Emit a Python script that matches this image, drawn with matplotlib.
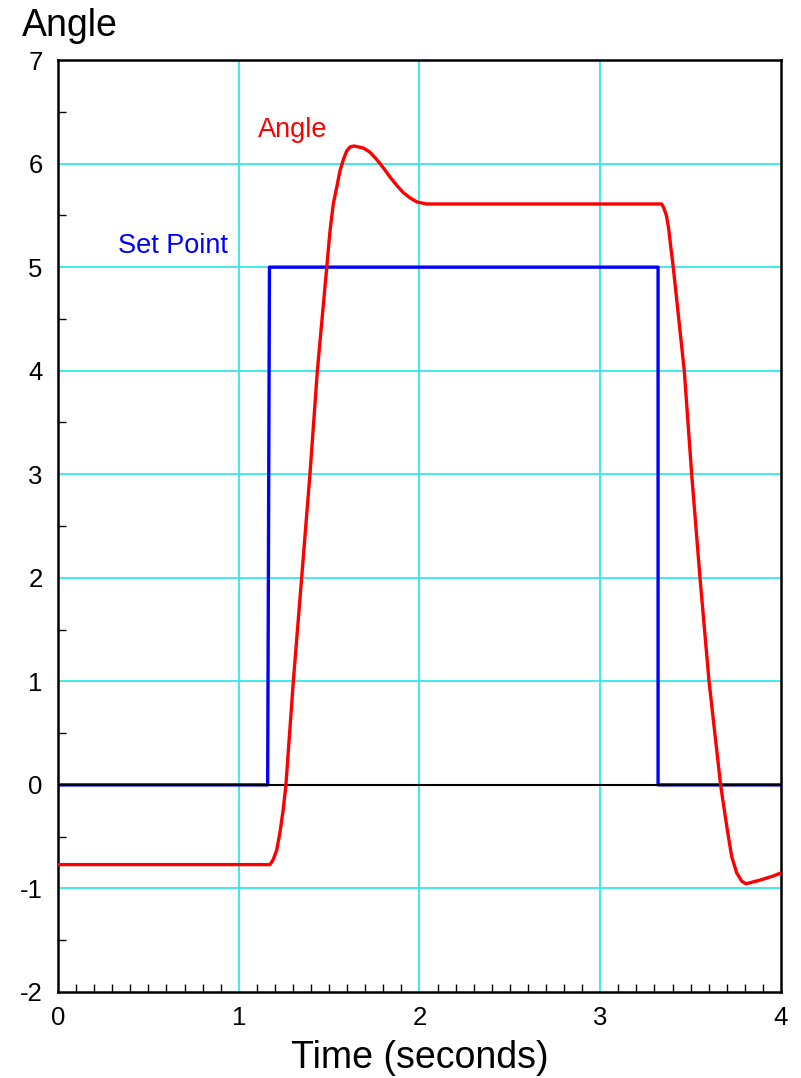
import numpy as np
import matplotlib
matplotlib.use("Agg")
import matplotlib.pyplot as plt
from matplotlib.ticker import MultipleLocator, FuncFormatter

# data
setpoint_t = [0.0, 1.16, 1.17, 3.32, 3.32, 4.0]
setpoint_v = [0.0, 0.0, 5.0, 5.0, 0.0, 0.0]

angle_t = [0.0, 1.173, 1.191, 1.21, 1.228, 1.246, 1.261, 1.302, 1.348, 1.394,
           1.435, 1.487, 1.505, 1.523, 1.542, 1.560, 1.579, 1.597, 1.615,
           1.638, 1.690, 1.726, 1.763, 1.800, 1.837, 1.874, 1.910, 1.947,
           1.985, 2.04, 3.34, 3.352, 3.366, 3.378, 3.39, 3.404, 3.465, 3.506,
           3.552, 3.602, 3.666, 3.70, 3.727, 3.755, 3.783, 3.806, 3.884,
           3.957, 4.0]
angle_v = [-0.77, -0.77, -0.72, -0.63, -0.46, -0.24, 0.0, 1.0, 2.0, 3.0,
           4.0, 5.0, 5.35, 5.61, 5.77, 5.93, 6.04, 6.12, 6.16,
           6.17, 6.15, 6.11, 6.04, 5.96, 5.87, 5.79, 5.72, 5.67,
           5.63, 5.61, 5.61, 5.57, 5.5, 5.38, 5.2, 5.0, 4.0, 3.0,
           2.0, 1.0, 0.0, -0.40, -0.69, -0.85, -0.93, -0.955, -0.92,
           -0.88, -0.85]

plt.rcParams['font.family'] = ['Liberation Sans', 'DejaVu Sans']

fig = plt.figure(figsize=(8.01, 10.78), dpi=100)
ax = fig.add_axes([0.0724, 0.0798, 0.9026, 0.8645])

ax.set_xlim(0, 4)
ax.set_ylim(-2, 7)

# grid (cyan), zero line black
for x in [1, 2, 3]:
    ax.axvline(x, color="#33e8e8", lw=1.3, zorder=1)
for y in [-1, 1, 2, 3, 4, 5, 6]:
    ax.axhline(y, color="#33e8e8", lw=1.3, zorder=1)

ax.plot(setpoint_t, setpoint_v, color="#0000ff", lw=2.4, zorder=3)
ax.axhline(0, color="black", lw=1.5, zorder=3.5)
ax.plot(angle_t, angle_v, color="#ff0000", lw=2.4, zorder=4,
        solid_joinstyle="round")

ax.text(1.107, 6.32, "Angle", color="#ff0000", fontsize=19.5, va="center")
ax.text(0.33, 5.20, "Set Point", color="#0000ff", fontsize=19.5, va="center")

ax.set_xticks([0, 1, 2, 3, 4])
ax.set_yticks(range(-2, 8))
fmt = FuncFormatter(lambda v, p: "%d" % v)
ax.xaxis.set_major_formatter(fmt)
ax.yaxis.set_major_formatter(fmt)
ax.xaxis.set_minor_locator(MultipleLocator(0.1))
ax.yaxis.set_minor_locator(MultipleLocator(0.5))
ax.tick_params(which="major", length=0, labelsize=18.5)
ax.tick_params(axis="x", which="major", pad=10)
ax.tick_params(axis="y", which="major", pad=11)
ax.tick_params(which="minor", direction="in", length=6, width=1)

for s in ax.spines.values():
    s.set_linewidth(1.8)

ax.set_xlabel("Time (seconds)", fontsize=27, labelpad=7)
fig.text(0.027, 0.976, "Angle", fontsize=27, va="center", ha="left")

fig.savefig("out.png", dpi=100)
